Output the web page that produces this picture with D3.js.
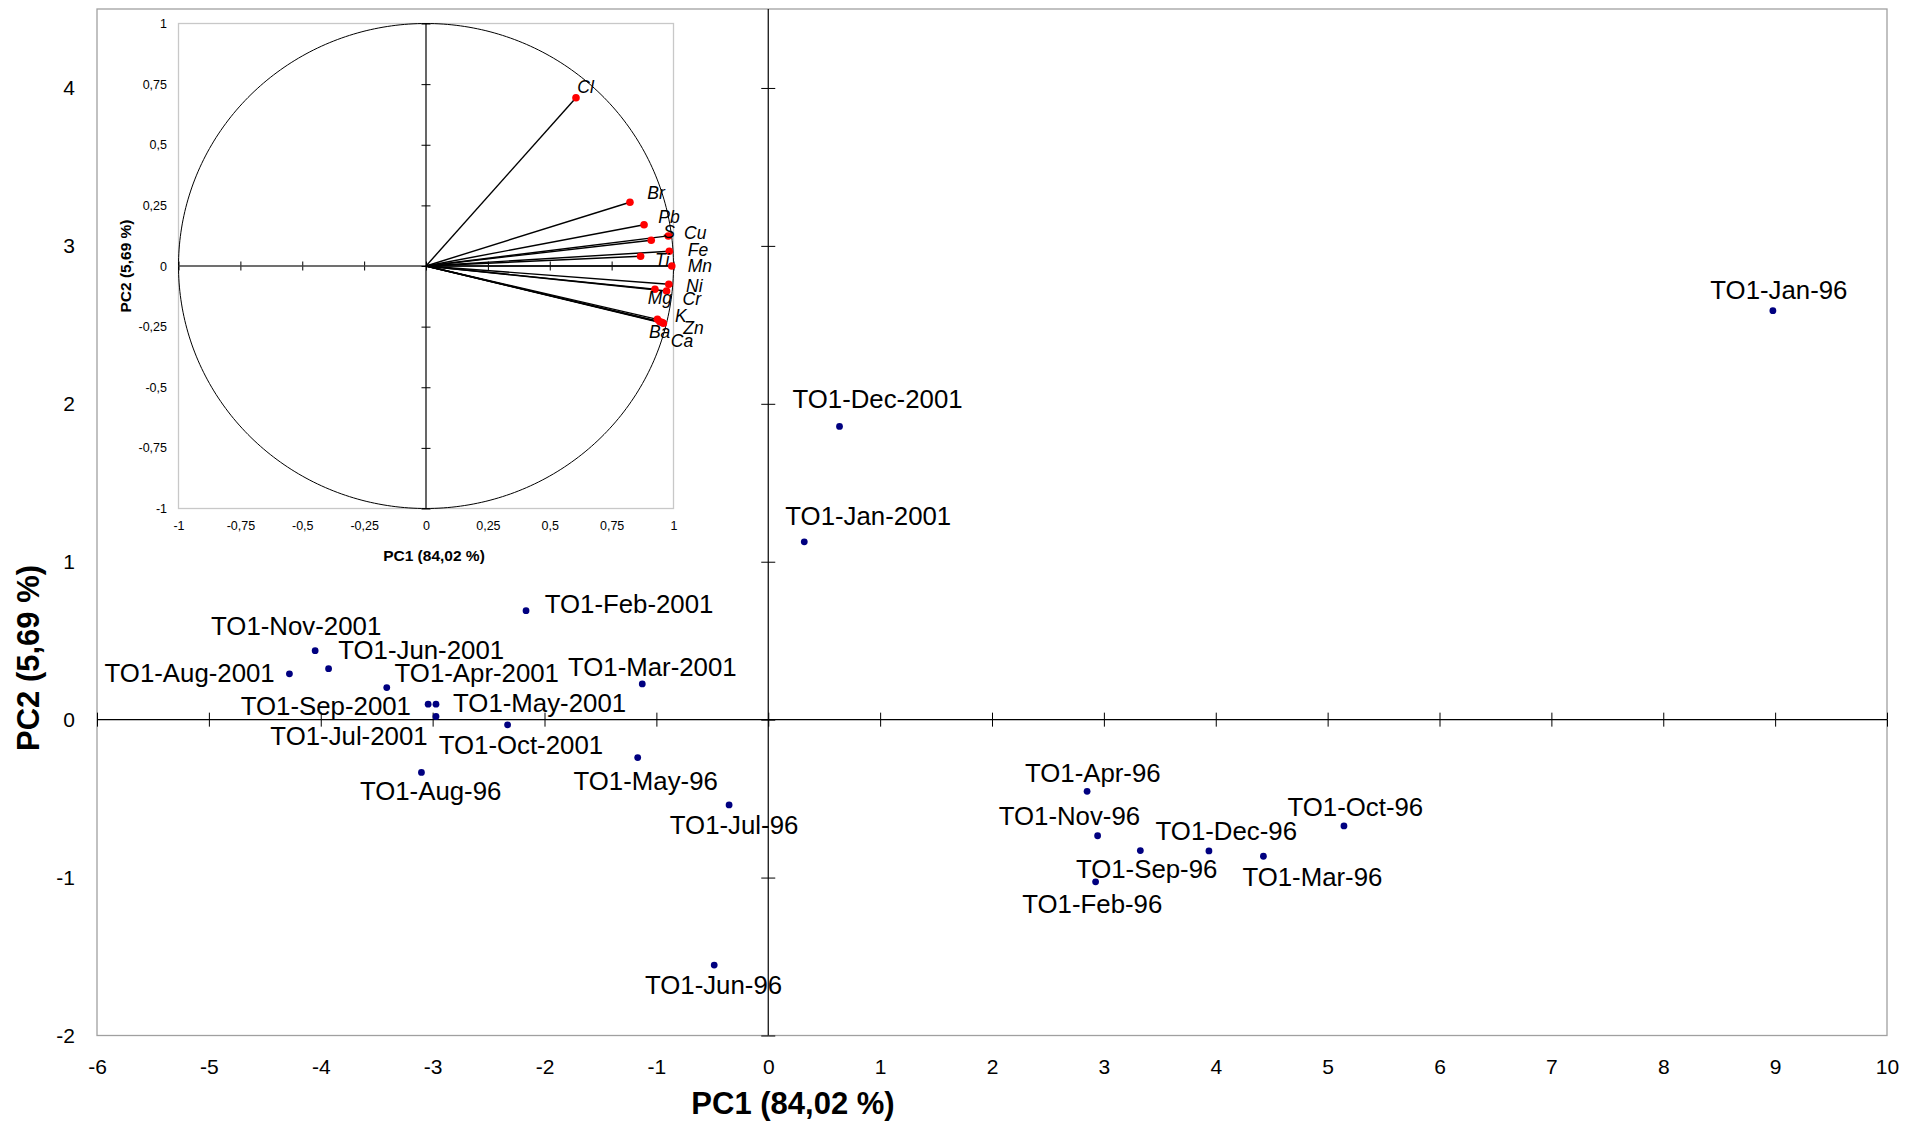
<!DOCTYPE html>
<html><head><meta charset="utf-8">
<script src="https://cdn.jsdelivr.net/npm/d3@7"></script>
<style>
body{margin:0;background:#fff}
svg text{font-family:"Liberation Sans",Arial,Helvetica,sans-serif}
</style>
</head><body>
<svg id="chart" width="1926" height="1128"></svg>
<script>
// ---------- DATA ----------
const sampleNames = ["TO1-Jan-96","TO1-Dec-2001","TO1-Jan-2001","TO1-Feb-2001","TO1-Nov-2001","TO1-Jun-2001",
  "TO1-Aug-2001","TO1-Apr-2001","TO1-Mar-2001","TO1-Sep-2001","TO1-May-2001","TO1-Jul-2001","TO1-Oct-2001",
  "TO1-Aug-96","TO1-May-96","TO1-Jul-96","TO1-Jun-96","TO1-Apr-96","TO1-Nov-96","TO1-Sep-96","TO1-Dec-96",
  "TO1-Mar-96","TO1-Oct-96","TO1-Feb-96"];
const pc1Scores = [8.98,0.637,0.322,-2.165,-4.05,-3.93,-4.28,-3.41,-1.126,-3.04,-2.97,-2.97,-2.33,
  -3.10,-1.167,-0.35,-0.483,2.85,2.944,3.326,3.939,4.426,5.146,2.926];
const pc2Scores = [2.59,1.857,1.126,0.69,0.437,0.323,0.29,0.203,0.226,0.098,0.098,0.02,-0.033,
  -0.334,-0.24,-0.54,-1.554,-0.454,-0.735,-0.829,-0.831,-0.865,-0.673,-1.027];

const variableNames = ["Cl","Br","Pb","S","Cu","Fe","Ti","Mn","Ni","Mg","Cr","K","Ba","Zn","Ca"];
const loadingPC1 = [0.606,0.824,0.881,0.910,0.979,0.983,0.867,0.993,0.981,0.925,0.972,0.935,0.945,0.959,0.954];
const loadingPC2 = [0.694,0.263,0.170,0.106,0.124,0.061,0.040,0.000,-0.075,-0.096,-0.103,-0.220,-0.230,-0.236,-0.233];

const xTickValues = [-6,-5,-4,-3,-2,-1,0,1,2,3,4,5,6,7,8,9,10];
const xTickLabels = ["-6","-5","-4","-3","-2","-1","0","1","2","3","4","5","6","7","8","9","10"];
const yTickValues = [-2,-1,0,1,2,3,4];
const yTickLabels = ["-2","-1","0","1","2","3","4"];
const insetTickValues = [-1,-0.75,-0.5,-0.25,0,0.25,0.5,0.75,1];
const insetTickLabels = ["-1","-0,75","-0,5","-0,25","0","0,25","0,5","0,75","1"];

const xTitle = "PC1 (84,02 %)";
const yTitle = "PC2 (5,69 %)";

// ---------- LAYOUT (label offsets in px: [dx of text centre, dy of baseline]) ----------
const sampleLabelOffset = {
  "TO1-Jan-96":[6,-12],"TO1-Dec-2001":[38,-18.5],"TO1-Jan-2001":[64,-16.5],"TO1-Feb-2001":[103,2.6],
  "TO1-Nov-2001":[-19,-15.7],"TO1-Jun-2001":[92.6,-9.7],"TO1-Aug-2001":[-99.8,8.3],"TO1-Apr-2001":[90,-5.4],
  "TO1-Mar-2001":[10,-8.3],"TO1-Sep-2001":[-102.3,10.7],"TO1-May-2001":[103.6,7.4],"TO1-Jul-2001":[-87,28.3],
  "TO1-Oct-2001":[13.3,29],"TO1-Aug-96":[9.2,27.3],"TO1-May-96":[8,32.3],"TO1-Jul-96":[5,29],
  "TO1-Jun-96":[-0.7,28.6],"TO1-Apr-96":[5.7,-9],"TO1-Nov-96":[-28.2,-10.3],"TO1-Sep-96":[6.3,27.3],
  "TO1-Dec-96":[17.4,-10.6],"TO1-Mar-96":[49,29.3],"TO1-Oct-96":[11.4,-9.6],"TO1-Feb-96":[-3.3,31]
};
// inset labels: [dx of text start, dy of baseline]
const varLabelOffset = {
  "Cl":[1.3,-4.4],"Br":[17.3,-3],"Pb":[14.3,-2],"S":[12,-2],"Cu":[15.7,3.3],"Fe":[18.4,4.4],
  "Ti":[14.3,9.4],"Mn":[16,6],"Ni":[17.3,7.4],"Mg":[-7.3,15],"Cr":[16,14],"K":[17.7,3],
  "Ba":[-11,16.6],"Zn":[20,10.7],"Ca":[8.7,24.2]
};

const svg = d3.select("#chart");
const FONT = '"Liberation Sans",Arial,sans-serif';

// ---------- MAIN PLOT ----------
const plot = {left:97, right:1887, top:9, bottom:1035.5};
const x = d3.scaleLinear().domain([-6,10]).range([plot.left, plot.right]);
const y = d3.scaleLinear().domain([-2,4.5]).range([plot.bottom, plot.top]);

svg.append("rect").attr("x",plot.left).attr("y",plot.top)
  .attr("width",plot.right-plot.left).attr("height",plot.bottom-plot.top)
  .attr("fill","#fff").attr("stroke","#a0a0a0").attr("stroke-width",1.3);

// zero axes with crossing ticks
function crossTicks(g, axisA, axisB){
  g.append("g").call(axisA).call(s=>s.select(".domain").remove());
  g.append("g").call(axisB).call(s=>s.select(".domain").remove());
  g.selectAll("line").attr("stroke","#000").attr("stroke-width",1);
}
const gx0 = svg.append("g").attr("transform",`translate(0,${y(0)})`);
crossTicks(gx0,
  d3.axisBottom(x).tickValues(xTickValues).tickSize(7).tickFormat(""),
  d3.axisTop(x).tickValues(xTickValues).tickSize(7).tickFormat(""));
gx0.append("line").attr("x1",plot.left).attr("x2",plot.right).attr("stroke","#000").attr("stroke-width",1.2);

const gy0 = svg.append("g").attr("transform",`translate(${x(0)},0)`);
crossTicks(gy0,
  d3.axisLeft(y).tickValues(yTickValues).tickSize(7).tickFormat(""),
  d3.axisRight(y).tickValues(yTickValues).tickSize(7).tickFormat(""));
gy0.append("line").attr("y1",plot.top).attr("y2",plot.bottom).attr("stroke","#000").attr("stroke-width",1.2);

// tick labels (low position)
svg.append("g").attr("transform",`translate(0,${plot.bottom})`)
  .call(d3.axisBottom(x).tickValues(xTickValues).tickSize(0).tickPadding(24)
    .tickFormat((d,i)=>xTickLabels[i]))
  .call(s=>s.select(".domain").remove())
  .selectAll("text").attr("font-size",21).attr("font-family",FONT).attr("fill","#000");
svg.append("g").attr("transform",`translate(${plot.left},0)`)
  .call(d3.axisLeft(y).tickValues(yTickValues).tickSize(0).tickPadding(22)
    .tickFormat((d,i)=>yTickLabels[i]))
  .call(s=>s.select(".domain").remove())
  .selectAll("text").attr("font-size",21).attr("font-family",FONT).attr("fill","#000");

// axis titles
svg.append("text").attr("x",793).attr("y",1114).attr("text-anchor","middle")
  .attr("font-size",31).attr("font-weight","bold").text(xTitle);
svg.append("text").attr("transform",`translate(39,658) rotate(-90)`).attr("text-anchor","middle")
  .attr("font-size",31).attr("font-weight","bold").text(yTitle);

// points & labels
const samples = sampleNames.map((n,i)=>({name:n, pc1:pc1Scores[i], pc2:pc2Scores[i]}));
svg.append("g").selectAll("circle").data(samples).join("circle")
  .attr("cx",d=>x(d.pc1)).attr("cy",d=>y(d.pc2)).attr("r",3.4).attr("fill","#000080");
svg.append("g").selectAll("text").data(samples).join("text")
  .attr("x",d=>x(d.pc1)+sampleLabelOffset[d.name][0])
  .attr("y",d=>y(d.pc2)+sampleLabelOffset[d.name][1])
  .attr("text-anchor","middle").attr("font-size",25.8).attr("fill","#000").text(d=>d.name);

// ---------- INSET (correlation circle) ----------
const inset = {left:178.5, right:673.5, top:23.5, bottom:508.5};
const ix = d3.scaleLinear().domain([-1,1]).range([inset.left, inset.right]);
const iy = d3.scaleLinear().domain([-1,1]).range([inset.bottom, inset.top]);

svg.append("rect").attr("x",inset.left).attr("y",inset.top)
  .attr("width",inset.right-inset.left).attr("height",inset.bottom-inset.top)
  .attr("fill","#fff").attr("stroke","#c8c8c8").attr("stroke-width",1.3);

const angles = d3.range(0, 361, 1).map(a=>a*Math.PI/180);
svg.append("path").datum(angles)
  .attr("d", d3.line().x(a=>ix(Math.cos(a))).y(a=>iy(Math.sin(a))))
  .attr("fill","none").attr("stroke","#000").attr("stroke-width",1);

const gix = svg.append("g").attr("transform",`translate(0,${iy(0)})`);
crossTicks(gix,
  d3.axisBottom(ix).tickValues(insetTickValues).tickSize(4.5).tickFormat(""),
  d3.axisTop(ix).tickValues(insetTickValues).tickSize(4.5).tickFormat(""));
gix.append("line").attr("x1",inset.left).attr("x2",inset.right).attr("stroke","#404040").attr("stroke-width",1.6);
const giy = svg.append("g").attr("transform",`translate(${ix(0)},0)`);
crossTicks(giy,
  d3.axisLeft(iy).tickValues(insetTickValues).tickSize(4.5).tickFormat(""),
  d3.axisRight(iy).tickValues(insetTickValues).tickSize(4.5).tickFormat(""));
giy.append("line").attr("y1",inset.top).attr("y2",inset.bottom).attr("stroke","#000").attr("stroke-width",1.2);

svg.append("g").attr("transform",`translate(0,${inset.bottom})`)
  .call(d3.axisBottom(ix).tickValues(insetTickValues).tickSize(0).tickPadding(13)
    .tickFormat((d,i)=>insetTickLabels[i]))
  .call(s=>s.select(".domain").remove())
  .selectAll("text").attr("font-size",12.5).attr("font-family",FONT).attr("fill","#000");
svg.append("g").attr("transform",`translate(${inset.left},0)`)
  .call(d3.axisLeft(iy).tickValues(insetTickValues).tickSize(0).tickPadding(11.5)
    .tickFormat((d,i)=>insetTickLabels[i]))
  .call(s=>s.select(".domain").remove())
  .selectAll("text").attr("font-size",12.5).attr("font-family",FONT).attr("fill","#000");

svg.append("text").attr("x",434).attr("y",560.5).attr("text-anchor","middle")
  .attr("font-size",15.5).attr("font-weight","bold").text(xTitle);
svg.append("text").attr("transform",`translate(131,266) rotate(-90)`).attr("text-anchor","middle")
  .attr("font-size",15.5).attr("font-weight","bold").text(yTitle);

const loadings = variableNames.map((n,i)=>({name:n, a:loadingPC1[i], b:loadingPC2[i]}));
svg.append("g").selectAll("line").data(loadings).join("line")
  .attr("x1",ix(0)).attr("y1",iy(0))
  .attr("x2",d=>ix(d.a)).attr("y2",d=>iy(d.b))
  .attr("stroke","#000").attr("stroke-width",1.4);
svg.append("g").selectAll("circle").data(loadings).join("circle")
  .attr("cx",d=>ix(d.a)).attr("cy",d=>iy(d.b)).attr("r",3.8).attr("fill","#ff0000");
svg.append("g").selectAll("text").data(loadings).join("text")
  .attr("x",d=>ix(d.a)+varLabelOffset[d.name][0])
  .attr("y",d=>iy(d.b)+varLabelOffset[d.name][1])
  .attr("font-size",17.5).attr("font-style","italic").attr("fill","#000").text(d=>d.name);
</script>
</body></html>
